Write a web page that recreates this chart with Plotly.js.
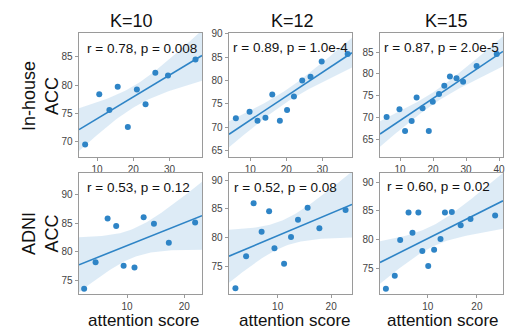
<!DOCTYPE html>
<html>
<head>
<meta charset="utf-8">
<script src="https://cdn.plot.ly/plotly-3.0.1.min.js"></script>
<style>html,body{margin:0;padding:0;background:#fff;}#chart{width:512px;height:331px;}</style>
</head>
<body>
<div id="chart"></div>
<script>
// ---- Data ----
const colTitles = ["K=10", "K=12", "K=15"];
const rowTitles = ["In-house<br>ACC", "ADNI<br>ACC"];
const xAxisLabel = "attention score";

// In-house, K=10
const inhouseK10_x = [6.7, 10.6, 13.4, 15.7, 18.5, 21.0, 23.4, 26.1, 29.6, 37.2];
const inhouseK10_y = [69.5, 78.4, 75.6, 79.7, 72.6, 79.2, 76.6, 82.2, 81.7, 84.5];
// In-house, K=12
const inhouseK12_x = [6.0, 9.8, 12.0, 14.2, 16.1, 18.2, 20.2, 22.1, 24.4, 26.7, 29.8, 37.0];
const inhouseK12_y = [71.9, 73.3, 71.4, 72.0, 77.0, 71.4, 73.7, 76.6, 80.0, 80.8, 84.1, 85.7];
// In-house, K=15
const inhouseK15_x = [5.9, 9.8, 11.5, 13.5, 15.0, 16.8, 18.7, 19.9, 21.8, 23.4, 25.1, 27.1, 29.1, 33.2, 39.3];
const inhouseK15_y = [70.1, 71.9, 66.9, 69.2, 74.6, 72.1, 66.9, 73.6, 75.4, 77.3, 79.4, 79.0, 78.2, 81.8, 84.6];
// ADNI, K=10
const adniK10_x = [2.5, 4.5, 6.6, 8.1, 9.4, 11.3, 12.9, 14.7, 17.3, 21.9];
const adniK10_y = [73.6, 78.2, 85.8, 84.5, 77.6, 77.3, 86.0, 84.9, 81.6, 85.1];
// ADNI, K=12
const adniK12_x = [2.1, 4.1, 5.5, 7.0, 8.4, 9.4, 11.2, 12.5, 13.8, 15.6, 17.8, 22.7];
const adniK12_y = [71.1, 76.7, 86.0, 81.0, 84.6, 78.1, 75.4, 80.1, 83.1, 85.2, 81.6, 84.8];
// ADNI, K=15
const adniK15_x = [1.5, 3.3, 4.4, 6.1, 6.9, 8.1, 8.9, 10.1, 11.3, 12.6, 13.5, 14.9, 16.7, 18.7, 23.7];
const adniK15_y = [71.4, 73.7, 79.9, 84.7, 81.2, 84.7, 78.0, 75.4, 78.2, 80.1, 84.7, 84.8, 82.5, 83.6, 84.2];

const statLabels = [
  "r = 0.78, p = 0.008", "r = 0.89, p = 1.0e-4", "r = 0.87, p = 2.0e-5",
  "r = 0.53, p = 0.12", "r = 0.52, p = 0.08", "r = 0.60, p = 0.02"
];

// ---- Layout geometry ----
const W = 512, H = 331;
const colPx = [[79, 202], [229, 352], [380, 503]];
const rowPx = [[33, 157], [173, 294]];
const xRanges = [[5, 39], [4.1, 38.2], [3.9, 41.2], [1.6, 23.1], [0.9, 23.9], [0.3, 25.3]];
const yRanges = [[67.3, 89.2], [63.6, 90.2], [60.9, 89.4], [72.7, 93.7], [70.1, 91.3], [70.5, 91.6]];

const panels = [
  [inhouseK10_x, inhouseK10_y], [inhouseK12_x, inhouseK12_y], [inhouseK15_x, inhouseK15_y],
  [adniK10_x, adniK10_y], [adniK12_x, adniK12_y], [adniK15_x, adniK15_y]
];

const blue = "#2e84c6";
const band = "rgba(46,132,198,0.16)";
const font = "Arial, 'Liberation Sans', sans-serif";

function fit(xs, ys, xr) {
  const n = xs.length;
  const mx = xs.reduce((a, b) => a + b, 0) / n;
  const my = ys.reduce((a, b) => a + b, 0) / n;
  let sxx = 0, sxy = 0;
  for (let i = 0; i < n; i++) { sxx += (xs[i] - mx) ** 2; sxy += (xs[i] - mx) * (ys[i] - my); }
  const b = sxy / sxx, a = my - b * mx;
  let sse = 0;
  for (let i = 0; i < n; i++) sse += (ys[i] - a - b * xs[i]) ** 2;
  const s = Math.sqrt(sse / (n - 2));
  const gx = [], gy = [], lo = [], hi = [];
  const N = 60;
  for (let k = 0; k <= N; k++) {
    const x = xr[0] + (xr[1] - xr[0]) * k / N;
    const y = a + b * x;
    const se = s * Math.sqrt(1 / n + (x - mx) ** 2 / sxx);
    gx.push(x); gy.push(y); lo.push(y - 1.96 * se); hi.push(y + 1.96 * se);
  }
  return { gx, gy, lo, hi };
}

const traces = [];
const layout = {
  width: W, height: H,
  margin: { l: 0, r: 0, t: 0, b: 0 },
  paper_bgcolor: "#fff", plot_bgcolor: "#fff",
  showlegend: false,
  font: { family: font },
  annotations: []
};

panels.forEach((p, i) => {
  const r = Math.floor(i / 3), c = i % 3;
  const sfx = i === 0 ? "" : String(i + 1);
  const xa = "x" + sfx, ya = "y" + sfx;
  const f = fit(p[0], p[1], xRanges[i]);
  traces.push({
    x: f.gx.concat(f.gx.slice().reverse()),
    y: f.hi.concat(f.lo.slice().reverse()),
    xaxis: xa, yaxis: ya, type: "scatter", mode: "lines",
    fill: "toself", fillcolor: band, line: { width: 0 }, hoverinfo: "skip"
  });
  traces.push({
    x: f.gx, y: f.gy, xaxis: xa, yaxis: ya, type: "scatter", mode: "lines",
    line: { color: blue, width: 1.6 }
  });
  traces.push({
    x: p[0], y: p[1], xaxis: xa, yaxis: ya, type: "scatter", mode: "markers",
    marker: { color: blue, size: 6 }
  });
  const axCommon = {
    showline: true, mirror: true, linecolor: "#9a9a9a", linewidth: 1.3,
    ticks: "outside", ticklen: 3, tickwidth: 1, tickcolor: "#9a9a9a",
    showgrid: false, zeroline: false,
    tickfont: { size: 10, color: "#444", family: font }
  };
  layout["xaxis" + sfx] = Object.assign({}, axCommon, {
    domain: [colPx[c][0] / W, colPx[c][1] / W], range: xRanges[i], dtick: 10,
    anchor: ya
  });
  layout["yaxis" + sfx] = Object.assign({}, axCommon, {
    domain: [1 - rowPx[r][1] / H, 1 - rowPx[r][0] / H], range: yRanges[i], dtick: 5,
    anchor: xa
  });
});

// stat labels
const statPos = [[85, 49], [231, 47], [382, 47], [85, 187], [232, 187], [385, 186]];
statLabels.forEach((t, i) => {
  layout.annotations.push({
    text: t, xref: "paper", yref: "paper",
    x: statPos[i][0] / W, y: 1 - statPos[i][1] / H,
    xanchor: "left", yanchor: "middle", showarrow: false,
    font: { size: 13.5, color: "#111", family: font }
  });
});
// column titles
const titleX = [131, 292.5, 446];
colTitles.forEach((t, i) => {
  layout.annotations.push({
    text: t, xref: "paper", yref: "paper",
    x: titleX[i] / W, y: 1 - 21 / H, xanchor: "center", yanchor: "middle",
    showarrow: false, font: { size: 18, color: "#111", family: font }
  });
});
// row titles
const rowY = [96, 234];
rowTitles.forEach((t, i) => {
  layout.annotations.push({
    text: t, xref: "paper", yref: "paper",
    x: 40 / W, y: 1 - rowY[i] / H, xanchor: "center", yanchor: "middle",
    textangle: -90, showarrow: false, font: { size: 18, color: "#111", family: font }
  });
});
// x axis labels
const xlabX = [144, 295, 443];
xlabX.forEach((xx) => {
  layout.annotations.push({
    text: xAxisLabel, xref: "paper", yref: "paper",
    x: xx / W, y: 1 - 320 / H, xanchor: "center", yanchor: "middle",
    showarrow: false, font: { size: 17, color: "#111", family: font }
  });
});

Plotly.newPlot("chart", traces, layout, { staticPlot: true, displayModeBar: false });
</script>
</body>
</html>
